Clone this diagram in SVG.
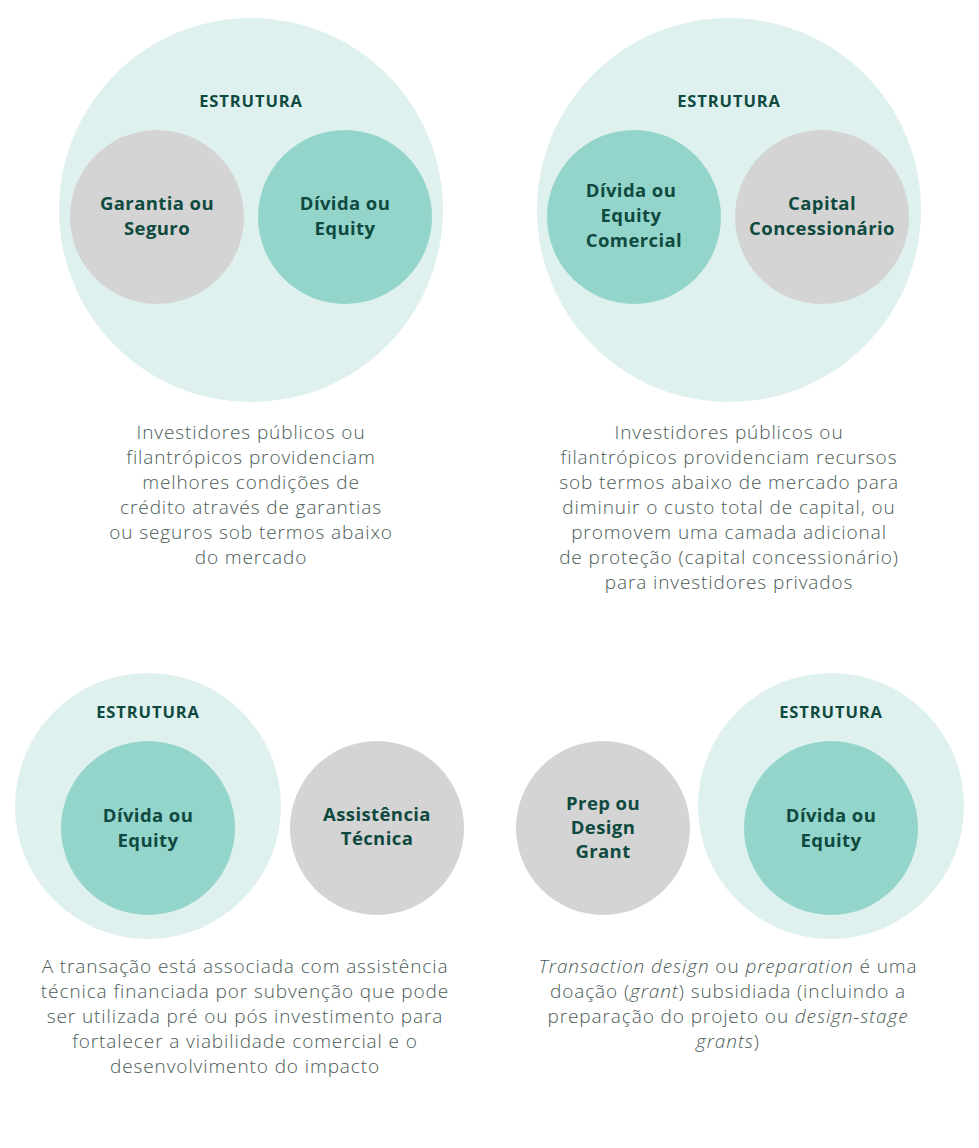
<svg xmlns="http://www.w3.org/2000/svg" width="979" height="1148" viewBox="0 0 979 1148">
<style>
.big{fill:#dff1ee}
.teal{fill:#94d5cb}
.gray{fill:#d4d4d4}
.head{font-family:"Open Sans","Liberation Sans",sans-serif;font-weight:700;font-size:16.5px;letter-spacing:0.9px;fill:#0f4a40;text-anchor:middle}
.lbl{font-family:"Open Sans","Liberation Sans",sans-serif;font-weight:700;font-size:18.5px;letter-spacing:0.4px;fill:#0f4a40;text-anchor:middle}
.body{font-family:"Open Sans","Liberation Sans",sans-serif;font-weight:300;font-size:19px;letter-spacing:0.9px;fill:#4a5b56;text-anchor:middle}
</style>
<rect width="979" height="1148" fill="#ffffff"/>
<g id="panel1">
<circle class="big" cx="251" cy="210" r="192"/>
<text class="head" x="251" y="107">ESTRUTURA</text>
<g id="p1-garantia"><circle class="gray" cx="157" cy="217" r="87"/>
<text class="lbl" x="157" y="210">Garantia ou</text><text class="lbl" x="157" y="235">Seguro</text></g>
<g id="p1-divida"><circle class="teal" cx="345" cy="217" r="87"/>
<text class="lbl" x="345" y="210">Dívida ou</text><text class="lbl" x="345" y="235">Equity</text></g>
<text class="body" x="251" y="439">Investidores públicos ou</text>
<text class="body" x="251" y="464">filantrópicos providenciam</text>
<text class="body" x="251" y="489">melhores condições de</text>
<text class="body" x="251" y="514">crédito através de garantias</text>
<text class="body" x="251" y="539">ou seguros sob termos abaixo</text>
<text class="body" x="251" y="564">do mercado</text>
</g>
<g id="panel2">
<circle class="big" cx="729" cy="210" r="192"/>
<text class="head" x="729" y="107">ESTRUTURA</text>
<g id="p2-divida"><circle class="teal" cx="634" cy="217" r="87"/>
<text class="lbl" x="631" y="197">Dívida ou</text><text class="lbl" x="631" y="222">Equity</text><text class="lbl" x="634" y="247">Comercial</text></g>
<g id="p2-capital"><circle class="gray" cx="822" cy="217" r="87"/>
<text class="lbl" x="822" y="210">Capital</text><text class="lbl" x="822" y="235">Concessionário</text></g>
<text class="body" x="729" y="439">Investidores públicos ou</text>
<text class="body" x="729" y="464">filantrópicos providenciam recursos</text>
<text class="body" x="729" y="489">sob termos abaixo de mercado para</text>
<text class="body" x="729" y="514">diminuir o custo total de capital, ou</text>
<text class="body" x="729" y="539">promovem uma camada adicional</text>
<text class="body" x="729" y="564">de proteção (capital concessionário)</text>
<text class="body" x="729" y="589">para investidores privados</text>
</g>
<g id="panel3">
<circle class="big" cx="148" cy="806" r="133"/>
<text class="head" x="148" y="718">ESTRUTURA</text>
<g id="p3-divida"><circle class="teal" cx="148" cy="828" r="87"/>
<text class="lbl" x="148" y="822">Dívida ou</text><text class="lbl" x="148" y="847">Equity</text></g>
<g id="p3-assist"><circle class="gray" cx="377" cy="828" r="87"/>
<text class="lbl" x="377" y="821">Assistência</text><text class="lbl" x="377" y="845">Técnica</text></g>
<text class="body" x="245" y="973">A transação está associada com assistência</text>
<text class="body" x="245" y="998">técnica financiada por subvenção que pode</text>
<text class="body" x="245" y="1023">ser utilizada pré ou pós investimento para</text>
<text class="body" x="245" y="1048">fortalecer a viabilidade comercial e o</text>
<text class="body" x="245" y="1073">desenvolvimento do impacto</text>
</g>
<g id="panel4">
<circle class="big" cx="831" cy="806" r="133"/>
<text class="head" x="831" y="718">ESTRUTURA</text>
<g id="p4-divida"><circle class="teal" cx="831" cy="828" r="87"/>
<text class="lbl" x="831" y="822">Dívida ou</text><text class="lbl" x="831" y="847">Equity</text></g>
<g id="p4-prep"><circle class="gray" cx="603" cy="828" r="87"/>
<text class="lbl" x="603" y="810">Prep ou</text><text class="lbl" x="603" y="834">Design</text><text class="lbl" x="603" y="858">Grant</text></g>
<text class="body" x="728" y="973"><tspan font-style="italic">Transaction design</tspan> ou <tspan font-style="italic">preparation</tspan> é uma</text>
<text class="body" x="728" y="998">doação (<tspan font-style="italic">grant</tspan>) subsidiada (incluindo a</text>
<text class="body" x="728" y="1023">preparação do projeto ou <tspan font-style="italic">design-stage</tspan></text>
<text class="body" x="728" y="1048"><tspan font-style="italic">grants</tspan>)</text>
</g>
</svg>
